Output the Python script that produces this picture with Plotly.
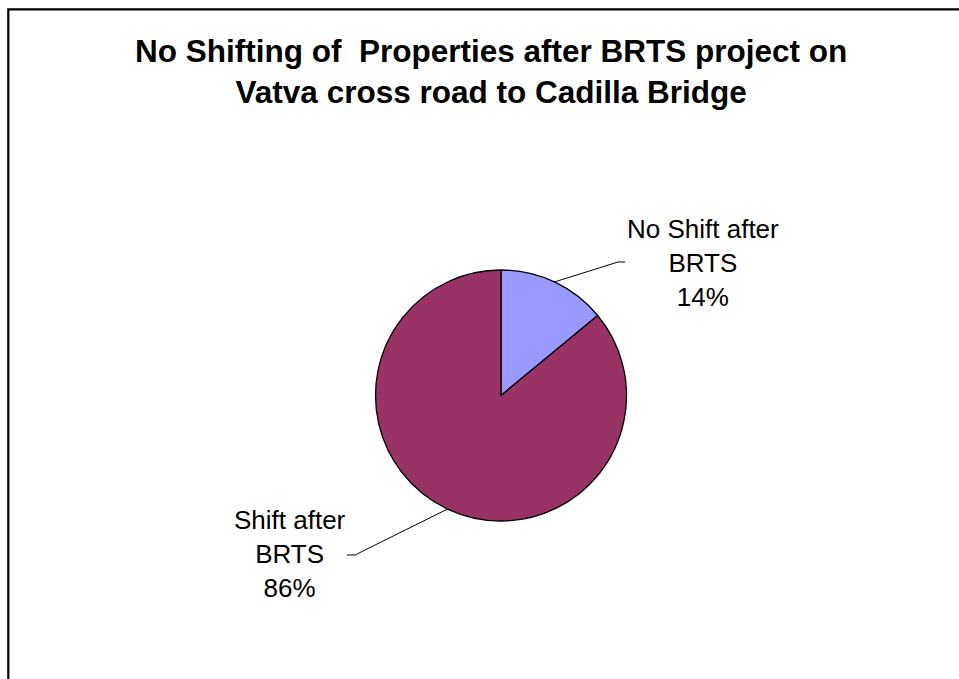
import math
import plotly.graph_objects as go

# ---- data ----
categories = ["No Shift after BRTS", "Shift after BRTS"]
label_lines = [["No Shift after", "BRTS"], ["Shift after", "BRTS"]]
values = [14, 86]
colors = ["#9999FF", "#993366"]
title_lines = ["No Shifting of  Properties after BRTS project on",
               "Vatva cross road to Cadilla Bridge"]

W, H = 959, 679
OFF = 0  # body margin removed by post_script below

# pie geometry (screen pixels)
cx, cy, r = 501, 395.5, 125.5

def px_x(x):
    return (x - OFF) / W

def px_y(y):
    return (H - (y - OFF)) / H

fig = go.Figure()
fig.add_trace(go.Pie(
    labels=categories,
    values=values,
    sort=False,
    direction="clockwise",
    rotation=0,
    marker=dict(colors=colors, line=dict(color="black", width=1.3)),
    textinfo="none",
    hoverinfo="skip",
    showlegend=False,
    domain=dict(x=[px_x(cx - r), px_x(cx + r)], y=[px_y(cy + r), px_y(cy - r)]),
))

# label positions / leader line ends (screen pixels)
label_pos = [(703, 263), (290, 554)]
elbow = [((618, 262), (625, 262)), ((355, 555), (347, 555))]

shapes = []
annotations = []
total = sum(values)
cum = 0
for i, v in enumerate(values):
    mid = (cum + v / 2) / total * 2 * math.pi
    cum += v
    sx = cx + r * math.sin(mid)
    sy = cy - r * math.cos(mid)
    (ex, ey), (hx, hy) = elbow[i]
    shapes.append(dict(
        type="path", xref="paper", yref="paper",
        path=f"M {px_x(sx)},{px_y(sy)} L {px_x(ex)},{px_y(ey)} L {px_x(hx)},{px_y(hy)}",
        line=dict(color="black", width=1),
    ))
    pct = round(v / total * 100)
    text = "<br>".join(label_lines[i] + [f"{pct}%"])
    lx, ly = label_pos[i]
    annotations.append(dict(
        x=px_x(lx), y=px_y(ly), xref="paper", yref="paper",
        text=text, showarrow=False, xanchor="center", yanchor="middle",
        align="center",
        font=dict(family="Liberation Sans, Arial, sans-serif", size=26, color="black"),
    ))

# title
annotations.append(dict(
    x=px_x(491), y=px_y(72), xref="paper", yref="paper",
    text="<b>" + "<br>".join(title_lines) + "</b>",
    showarrow=False, xanchor="center", yanchor="middle", align="center",
    font=dict(family="Liberation Sans, Arial, sans-serif", size=31.5, color="black"),
))

# chart frame (extends beyond the right and bottom edges)
shapes.append(dict(
    type="rect", xref="paper", yref="paper",
    x0=px_x(8.3), x1=px_x(959 + 40), y0=px_y(679 + 40), y1=px_y(9.3),
    line=dict(color="black", width=2.2), fillcolor="rgba(0,0,0,0)",
))

fig.update_layout(
    width=W, height=H,
    margin=dict(l=0, r=0, t=0, b=0),
    paper_bgcolor="white",
    plot_bgcolor="white",
    shapes=shapes,
    annotations=annotations,
)

fig.write_html(
    "out.html",
    config={"displayModeBar": False},
    post_script="document.body.style.margin='0';document.body.style.overflow='hidden';",
)
